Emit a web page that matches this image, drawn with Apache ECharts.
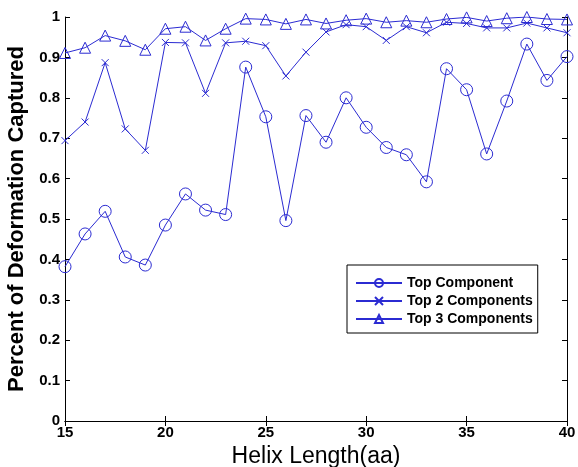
<!DOCTYPE html>
<html>
<head>
<meta charset="utf-8">
<script src="https://cdn.jsdelivr.net/npm/echarts@6/dist/echarts.min.js"></script>
<style>
  html, body { margin: 0; padding: 0; background: #fff; }
  #chart { width: 578px; height: 467px; }
</style>
</head>
<body>
<div id="chart"></div>
<script>
// helix length (aa)
var helixLen = [15,16,17,18,19,20,21,22,23,24,25,26,27,28,29,30,31,32,33,34,35,36,37,38,39,40];

var topOne = [0.382,0.463,0.519,0.406,0.386,0.485,0.562,0.522,0.511,0.876,0.753,0.496,0.756,0.690,0.800,0.727,0.677,0.659,0.592,0.872,0.820,0.661,0.792,0.933,0.843,0.902];
var topTwo = [0.694,0.740,0.887,0.723,0.670,0.937,0.936,0.811,0.936,0.940,0.929,0.854,0.913,0.963,0.981,0.976,0.942,0.976,0.961,0.987,0.984,0.973,0.973,0.985,0.973,0.961];
var topThree = [0.911,0.924,0.954,0.941,0.919,0.971,0.976,0.942,0.971,0.996,0.994,0.983,0.994,0.984,0.992,0.996,0.987,0.991,0.987,0.995,0.999,0.990,0.997,1.000,0.995,0.994];

var yTicks = ['0','0.1','0.2','0.3','0.4','0.5','0.6','0.7','0.8','0.9','1'];

var blue = '#2b2bd2';
var crossPath = 'path://M0,0L10,10M10,0L0,10';

function pairs(ys) {
  return helixLen.map(function (x, i) { return [x, ys[i]]; });
}

function mkSeries(name, ys, symbol, size) {
  return {
    name: name,
    type: 'line',
    data: pairs(ys),
    symbol: symbol,
    symbolSize: size,
    showAllSymbol: true,
    lineStyle: { color: blue, width: 1 },
    itemStyle: { color: 'rgba(255,255,255,0)', borderColor: blue, borderWidth: 1 },
    emphasis: { disabled: true },
    animation: false
  };
}

var chart = echarts.init(document.getElementById('chart'));
var font = 'Liberation Sans, Arial, sans-serif';

chart.setOption({
  backgroundColor: '#fff',
  textStyle: { fontFamily: font },
  grid: { left: 65, right: 11, top: 17, bottom: 46, outerBoundsMode: 'none', containLabel: false },
  legend: {
    orient: 'vertical',
    left: 347, top: 265,
    padding: [11, 5, 7, 8],
    itemGap: 4,
    itemWidth: 46, itemHeight: 10,
    borderColor: '#000', borderWidth: 1,
    backgroundColor: '#fff',
    textStyle: { fontFamily: font, fontWeight: 'bold', fontSize: 14, color: '#000' },
    data: ['Top Component', 'Top 2 Components', 'Top 3 Components']
  },
  xAxis: [{
    type: 'value', min: 15, max: 40, interval: 5,
    name: 'Helix Length(aa)', nameLocation: 'middle', nameGap: 20,
    nameTextStyle: { fontFamily: font, fontSize: 23, color: '#000' },
    axisLine: { lineStyle: { color: '#000' } },
    axisTick: { inside: true, length: 5, lineStyle: { color: '#000' } },
    axisLabel: { fontFamily: font, fontWeight: 'bold', fontSize: 15, color: '#000', margin: 4 },
    splitLine: { show: false }
  }, {
    type: 'value', min: 15, max: 40, interval: 5, position: 'top',
    axisLine: { show: true, lineStyle: { color: '#000' } },
    axisTick: { inside: true, length: 5, lineStyle: { color: '#000' } },
    axisLabel: { show: false }, splitLine: { show: false }
  }],
  yAxis: [{
    type: 'value', min: 0, max: 1, interval: 0.1,
    name: 'Percent of Deformation Captured', nameLocation: 'middle', nameGap: 33,
    nameTextStyle: { fontFamily: font, fontSize: 22, fontWeight: 'bold', color: '#000' },
    axisLine: { show: true, lineStyle: { color: '#000' } },
    axisTick: { inside: true, length: 5, lineStyle: { color: '#000' } },
    axisLabel: {
      fontFamily: font, fontWeight: 'bold', fontSize: 15, color: '#000', margin: 5,
      formatter: function (v) { return yTicks[Math.round(v * 10)]; }
    },
    splitLine: { show: false }
  }, {
    type: 'value', min: 0, max: 1, interval: 0.1, position: 'right',
    axisLine: { show: true, lineStyle: { color: '#000' } },
    axisTick: { inside: true, length: 5, lineStyle: { color: '#000' } },
    axisLabel: { show: false }, splitLine: { show: false }
  }],
  series: [
    mkSeries('Top Component', topOne, 'circle', 12),
    mkSeries('Top 2 Components', topTwo, crossPath, 7),
    mkSeries('Top 3 Components', topThree, 'triangle', 11)
  ]
});
</script>
</body>
</html>
